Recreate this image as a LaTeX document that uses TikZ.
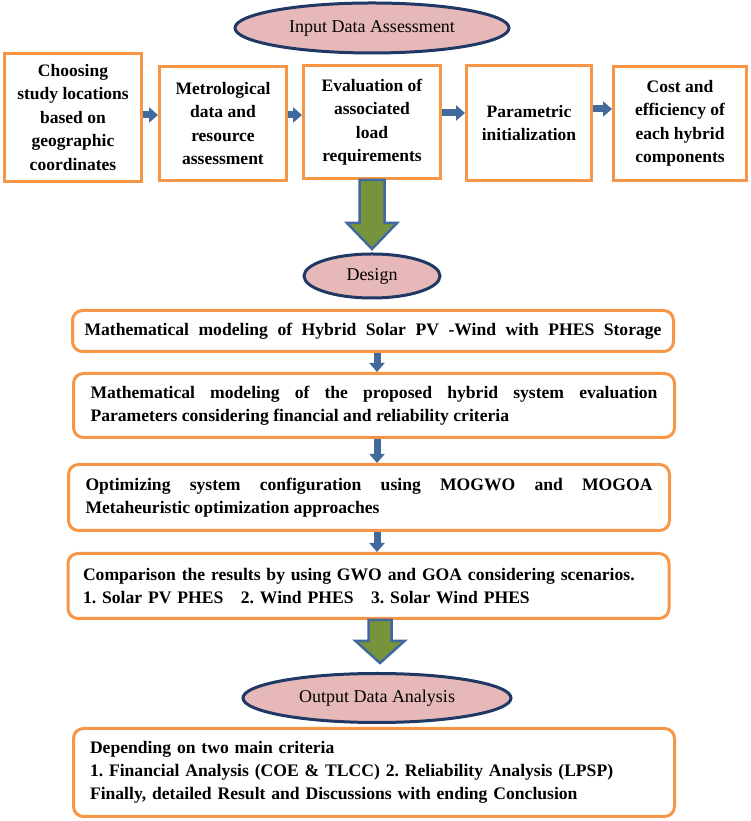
\documentclass[tikz,border=0pt]{standalone}
\usepackage{fontspec}
\setmainfont{Liberation Serif}
\usetikzlibrary{shapes.geometric,arrows.meta}
\definecolor{boxorange}{RGB}{247,150,70}
\definecolor{phasepink}{RGB}{230,185,184}
\definecolor{phasenavy}{RGB}{31,56,100}
\definecolor{flowgreen}{RGB}{119,147,60}
\definecolor{flowblue}{RGB}{65,105,155}
\tolerance=10000
\hbadness=10000
\frenchspacing
\tikzset{
  phase/.style={ellipse, draw=phasenavy, fill=phasepink, line width=3pt, inner sep=1pt,
    font=\fontsize{18}{22}\selectfont},
  topbox/.style={draw=boxorange, line width=3pt, inner sep=0pt, align=center,
    font=\bfseries\fontsize{17.5}{23.5}\selectfont},
  stagebox/.style={draw=boxorange, line width=3pt, rounded corners=10pt, inner sep=0pt,
    minimum width=601pt, align=justify,
    font=\bfseries\fontsize{17.6}{23}\selectfont},
  smallarrow/.style={draw=flowblue, line width=7pt, -{Triangle[width=15pt,length=9pt]}},
  fatarrow/.style={draw=flowblue, fill=flowgreen, line width=2.5pt, line join=miter}
}
\begin{document}
\begin{tikzpicture}[x=1pt, y=1pt]
    \useasboundingbox (0,0) rectangle (750,821);

    \node[phase, minimum width=274pt, minimum height=50pt] (input) at (372,793) {Input Data Assessment};

    \node[topbox, minimum width=137pt, minimum height=128pt] (choose) at (73,703.5)
        {Choosing\\study locations\\based on\\geographic\\coordinates};
    \node[topbox, minimum width=127pt, minimum height=114pt] (meteo) at (223,697.5)
        {Metrological\\data and\\resource\\assessment};
    \node[topbox, minimum width=137pt, minimum height=113pt] (eval) at (372,699)
        {Evaluation of\\associated\\load\\requirements};
    \node[topbox, minimum width=125pt, minimum height=115pt] (param) at (529,698)
        {Parametric\\initialization};
    \node[topbox, minimum width=133pt, minimum height=114pt] (cost) at (680,697.5)
        {Cost and\\efficiency of\\each hybrid\\components};

    \draw[smallarrow] (choose.east |- 0,706) -- (meteo.west |- 0,706);
    \draw[smallarrow] (meteo.east |- 0,706) -- (eval.west |- 0,706);
    \draw[smallarrow] (eval.east |- 0,708) -- (param.west |- 0,708);
    \draw[smallarrow] (param.east |- 0,712) -- (cost.west |- 0,712);

    \draw[fatarrow] (eval.south) ++(-12.5,0) -- ++(0,-43) -- ++(-12.5,0) -- ++(25,-26)
        -- ++(25,26) -- ++(-12.5,0) -- ++(0,43) -- cycle;

    \node[phase, minimum width=136pt, minimum height=44pt] (design) at (372,545) {Design};

    \node[stagebox, minimum height=41pt, text width=577pt] (model) at (373,490)
        {\makebox[577pt][s]{Mathematical modeling of Hybrid Solar PV -Wind with PHES Storage}};
    \node[stagebox, minimum height=64pt, text width=567pt] (params) at (374,415.5)
        {Mathematical modeling of the proposed hybrid system evaluation\linebreak
         Parameters considering financial and reliability criteria};
    \node[stagebox, minimum height=66pt, text width=567pt] (optim) at (369,323.5)
        {Optimizing system configuration using MOGWO and MOGOA\linebreak
         Metaheuristic optimization approaches};
    \node[stagebox, minimum height=65pt, text width=571pt, align=left] (compare) at (368.5,235)
        {Comparison the results by using GWO and GOA considering scenarios.\\
         1. Solar PV PHES\quad 2. Wind PHES\quad 3. Solar Wind PHES};

    \draw[smallarrow] (model.south -| 377,0) -- (params.north -| 377,0);
    \draw[smallarrow] (params.south -| 377,0) -- (optim.north -| 377,0);
    \draw[smallarrow] (optim.south -| 377,0) -- (compare.north -| 377,0);

    \draw[fatarrow] (compare.south -| 380,0) ++(-11.5,0) -- ++(0,-21) -- ++(-13,0) -- ++(24.5,-22)
        -- ++(24.5,22) -- ++(-13,0) -- ++(0,21) -- cycle;

    \node[phase, minimum width=268pt, minimum height=49pt] (output) at (377,123) {Output Data Analysis};

    \node[stagebox, minimum height=88pt, text width=568pt, align=left] (result) at (374,48.5)
        {Depending on two main criteria\\
         1. Financial Analysis (COE \& TLCC) 2. Reliability Analysis (LPSP)\\
         Finally, detailed Result and Discussions with ending Conclusion};
\end{tikzpicture}
\end{document}
